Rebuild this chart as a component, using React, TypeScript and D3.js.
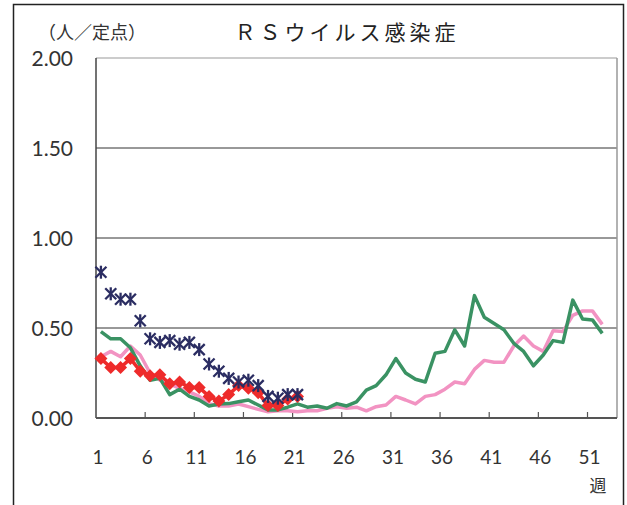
import React from 'react';
import * as d3 from 'd3';

const weeks = d3.range(1, 54);
const tickWeeks = [1, 6, 11, 16, 21, 26, 31, 36, 41, 46, 51];
const yTicks = [0, 0.5, 1.0, 1.5, 2.0];

// 今年 (asterisk markers)
const currentA = [0.81, 0.69, 0.66, 0.66, 0.54, 0.44, 0.42, 0.43, 0.41, 0.42, 0.38, 0.30, 0.26, 0.22, 0.20, 0.21, 0.18, 0.12, 0.11, 0.13, 0.13];
// red diamonds
const currentB = [0.33, 0.28, 0.28, 0.33, 0.26, 0.235, 0.24, 0.19, 0.20, 0.17, 0.17, 0.12, 0.095, 0.13, 0.18, 0.165, 0.14, 0.07, 0.07, 0.105, 0.12];
// green line
const prevA = [0.48, 0.44, 0.44, 0.39, 0.29, 0.21, 0.22, 0.13, 0.16, 0.12, 0.10, 0.067, 0.078, 0.08, 0.09, 0.10, 0.072, 0.045, 0.045, 0.06, 0.078, 0.06, 0.067, 0.054, 0.08, 0.067, 0.09, 0.155, 0.18, 0.24, 0.33, 0.25, 0.215, 0.20, 0.36, 0.37, 0.49, 0.40, 0.68, 0.56, 0.525, 0.49, 0.415, 0.37, 0.29, 0.35, 0.43, 0.42, 0.655, 0.55, 0.545, 0.47];
// pink line
const prevB = [0.34, 0.37, 0.34, 0.40, 0.35, 0.25, 0.21, 0.19, 0.165, 0.145, 0.12, 0.08, 0.067, 0.067, 0.078, 0.063, 0.048, 0.035, 0.04, 0.04, 0.035, 0.04, 0.04, 0.054, 0.063, 0.054, 0.06, 0.04, 0.063, 0.072, 0.12, 0.10, 0.078, 0.12, 0.13, 0.16, 0.20, 0.19, 0.27, 0.32, 0.31, 0.31, 0.40, 0.455, 0.40, 0.37, 0.485, 0.48, 0.57, 0.595, 0.595, 0.52];

const W = 627;
const H = 505;
const left = 96, right = 617, top = 58, bottom = 418;

const App = () => {
  const x = d3.scaleBand<number>().domain(weeks).range([left, right]).padding(0);
  const cx = (w: number) => (x(w) as number) + x.bandwidth() / 2;
  const y = d3.scaleLinear().domain([0, 2]).range([bottom, top]);

  const line = d3.line<number>().x((_, i) => cx(i + 1)).y(d => y(d));
  const font = "Lato, 'Noto Sans', sans-serif";
  const jp = "'Noto Sans CJK JP', sans-serif";

  return (
    <svg width={W} height={H} style={{ position: 'absolute', left: 0, top: 0 }}>
      <rect x={0} y={0} width={W} height={H} fill="#fff" />
      <rect x={13.5} y={4.5} width={610} height={H} fill="none" stroke="#222" strokeWidth={1.5} />

      <text x={38} y={39} fontSize={18} fontFamily={jp} fill="#333">（人／定点）</text>
      <text x={347} y={40} fontSize={21} fontFamily={jp} fill="#222" textAnchor="middle" letterSpacing={4}>ＲＳウイルス感染症</text>

      {/* grid */}
      {yTicks.filter(t => t > 0 && t < 2).map(t => (
        <line key={t} x1={left} x2={right} y1={y(t)} y2={y(t)} stroke="#333" strokeWidth={1} />
      ))}
      <line x1={left} x2={right} y1={top} y2={top} stroke="#999" strokeWidth={1.2} />
      <line x1={right} x2={right} y1={top} y2={bottom} stroke="#999" strokeWidth={1.5} />
      <line x1={left} x2={left} y1={top} y2={bottom} stroke="#444" strokeWidth={1.5} />
      <line x1={left} x2={right} y1={bottom} y2={bottom} stroke="#555" strokeWidth={2} />

      {/* x ticks */}
      {tickWeeks.slice(1).map(w => (
        <line key={w} x1={x(w) as number} x2={x(w) as number} y1={bottom} y2={bottom - 6} stroke="#555" strokeWidth={1.2} />
      ))}

      {yTicks.map(t => (
        <text key={t} x={73} y={y(t) + 8} fontSize={21} fontFamily={font} fill="#333" textAnchor="end">{t.toFixed(2)}</text>
      ))}
      {tickWeeks.map(w => (
        <text key={w} x={(x(w) as number) + 2} y={464} fontSize={19} fontFamily={font} fill="#333" textAnchor="middle">{w}</text>
      ))}
      <text x={598} y={492} fontSize={17} fontFamily={jp} fill="#333" textAnchor="middle">週</text>

      <path d={line(prevB) || ''} fill="none" stroke="#f293c2" strokeWidth={3.5} strokeLinejoin="round" />
      <path d={line(prevA) || ''} fill="none" stroke="#3a9263" strokeWidth={3.5} strokeLinejoin="round" />
      <path d={line(currentB) || ''} fill="none" stroke="#ee2b2b" strokeWidth={3.5} />
      {currentB.map((v, i) => {
        const px = cx(i + 1), py = y(v), s = 6.5;
        return <path key={i} d={`M${px},${py - s}L${px + s},${py}L${px},${py + s}L${px - s},${py}Z`} fill="#ee2b2b" />;
      })}
      {currentA.map((v, i) => {
        const px = cx(i + 1), py = y(v), s = 5.5;
        return (
          <g key={i} stroke="#2b2d62" strokeWidth={2.3}>
            <line x1={px - s} y1={py - s} x2={px + s} y2={py + s} />
            <line x1={px - s} y1={py + s} x2={px + s} y2={py - s} />
            <line x1={px} y1={py - s - 1} x2={px} y2={py + s + 1} />
          </g>
        );
      })}
    </svg>
  );
};

export default App;
